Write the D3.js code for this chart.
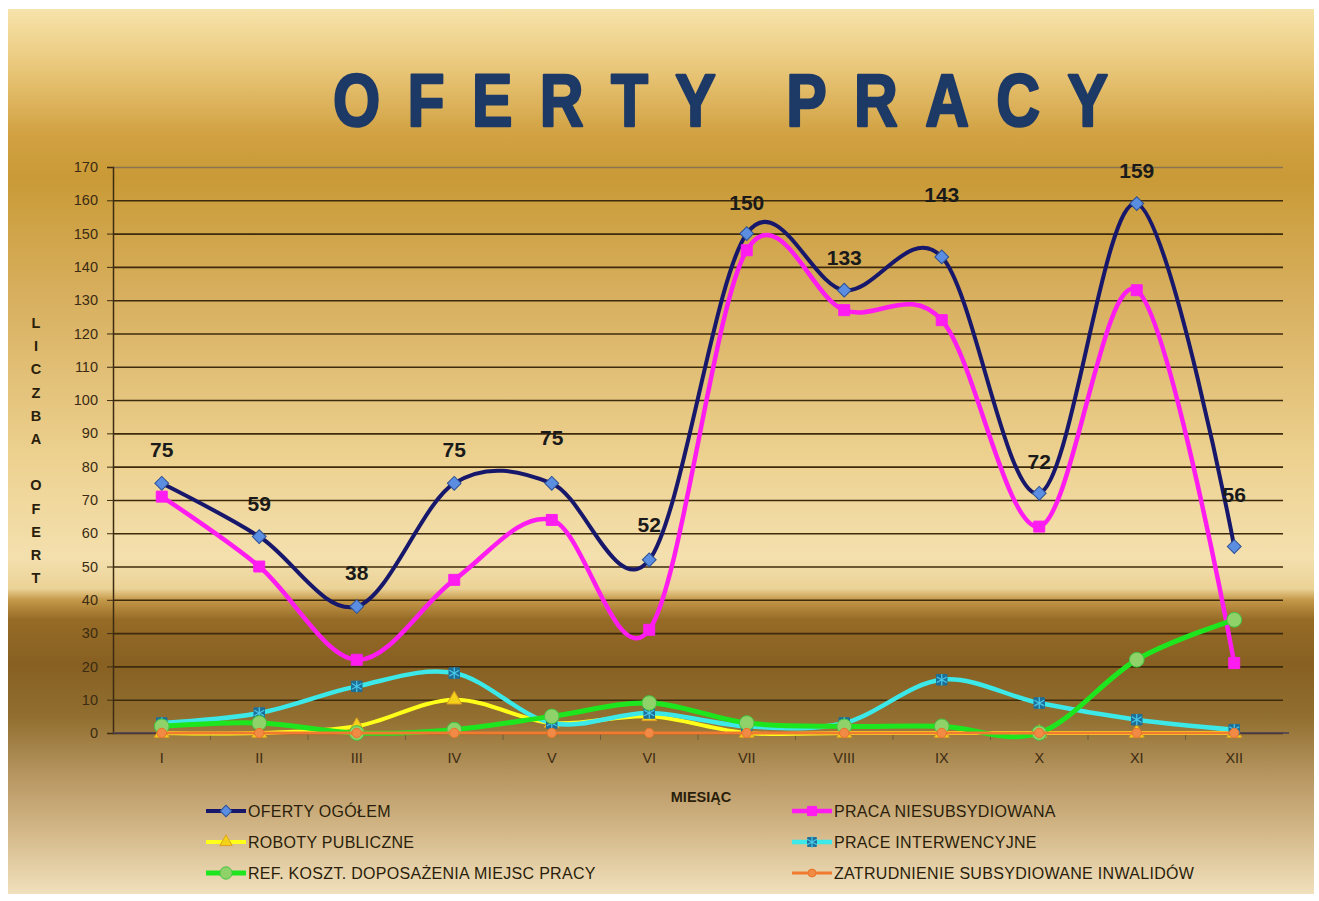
<!DOCTYPE html>
<html>
<head>
<meta charset="utf-8">
<script src="https://cdn.jsdelivr.net/npm/d3@7"></script>
<style>
  body { margin: 0; background: #fff; }
  text { font-family: "Liberation Sans", Arial, sans-serif; }
</style>
</head>
<body>
<div id="chart"></div>
<script>
// months and series values
const months = ["I", "II", "III", "IV", "V", "VI", "VII", "VIII", "IX", "X", "XI", "XII"];
const ofertyOgolem = [75, 59, 38, 75, 75, 52, 150, 133, 143, 72, 159, 56];
const pracaNiesub = [71, 50, 22, 46, 64, 31, 145, 127, 124, 62, 133, 21];
const robotyPubl = [0, 0, 2, 10, 3, 5, 0, 0, 0, 0, 0, 0];
const praceInterw = [3, 6, 14, 18, 3, 6, 2, 3, 16, 9, 4, 1];
const refKoszt = [2, 3, 0, 1, 5, 9, 3, 2, 2, 0, 22, 34];
const zatrudnInw = [0, 0, 0, 0, 0, 0, 0, 0, 0, 0, 0, 0];
const yTicks = d3.range(0, 171, 10);

// label lift above the point (px), some labels were moved by hand in the original
const labelLift = [33, 33, 33, 33, 45, 35, 31, 32, 62, 31, 33, 52];

const W = 1319, H = 901;
const plot = {left: 113, right: 1283, top: 167, bottom: 733};

const svg = d3.select("#chart").append("svg")
    .attr("width", W)
    .attr("height", H);

// background panel gradient
const defs = svg.append("defs");
const grad = defs.append("linearGradient")
    .attr("id", "bg")
    .attr("x1", 0).attr("y1", 0).attr("x2", 0).attr("y2", 1);
[
  [0.00, "#f6e3aa"], [0.06, "#ebca7e"], [0.14, "#d2a243"], [0.19, "#c99a36"],
  [0.33, "#d8b060"], [0.50, "#ecd08e"], [0.62, "#f4e0ae"], [0.655, "#ebd296"],
  [0.668, "#c49848"], [0.69, "#966b26"], [0.74, "#876022"], [0.80, "#916f30"],
  [0.87, "#b99864"], [0.93, "#d4b889"], [1.00, "#f0e0bc"]
].forEach(s => grad.append("stop").attr("offset", s[0]).attr("stop-color", s[1]));

svg.append("rect")
    .attr("x", 8).attr("y", 9)
    .attr("width", 1306).attr("height", 885)
    .attr("fill", "url(#bg)");

// title
const tScale = 0.82;
svg.append("text")
    .attr("transform", `scale(${tScale},1)`)
    .attr("x", 333 / tScale)
    .attr("y", 126)
    .attr("textLength", 775 / tScale)
    .attr("lengthAdjust", "spacing")
    .style("font-size", "74px")
    .style("font-weight", "bold")
    .style("fill", "#1d3966")
    .style("stroke", "#1d3966")
    .style("stroke-width", 2.5)
    .style("stroke-linejoin", "round")
    .text("OFERTY PRACY");

// scales
const x = d3.scaleBand()
    .domain(months)
    .range([plot.left, plot.right]);
const cx = m => x(m) + x.bandwidth() / 2;

const y = d3.scaleLinear()
    .domain([0, 170])
    .range([plot.bottom, plot.top]);

// gridlines
svg.append("g")
    .attr("transform", `translate(${plot.left},0)`)
    .call(d3.axisLeft(y).tickValues(yTicks).tickSize(-(plot.right - plot.left)).tickFormat(""))
    .call(g => g.select(".domain").remove())
    .call(g => g.selectAll(".tick line")
        .attr("stroke", d => d === 170 ? "#8a7350" : "#3d2a0c")
        .attr("stroke-width", 1.6));

// y axis
svg.append("g")
    .attr("transform", `translate(${plot.left},0)`)
    .call(d3.axisLeft(y).tickValues(yTicks).tickSize(6).tickPadding(9))
    .call(g => g.select(".domain").attr("stroke", "#3d2c12").attr("stroke-width", 1.5))
    .call(g => g.selectAll(".tick line").attr("stroke", "#3d2c12"))
    .call(g => g.selectAll(".tick text")
        .style("font-size", "14.5px")
        .style("fill", "#3b2b12"));

// x axis line + boundary ticks
svg.append("line")
    .attr("x1", plot.left).attr("x2", plot.right + 6)
    .attr("y1", y(0)).attr("y2", y(0))
    .attr("stroke", "#4a3f55").attr("stroke-width", 1.5);

svg.append("g")
    .selectAll("line")
    .data(months.slice(1))
    .enter()
    .append("line")
    .attr("x1", d => x(d)).attr("x2", d => x(d))
    .attr("y1", y(0) + 1).attr("y2", y(0) + 7)
    .attr("stroke", "#6e5a3a");

svg.append("g")
    .selectAll("text")
    .data(months)
    .enter()
    .append("text")
    .attr("x", d => cx(d))
    .attr("y", y(0) + 30)
    .style("text-anchor", "middle")
    .style("font-size", "14.5px")
    .style("fill", "#3b2b12")
    .text(d => d);

// axis titles
svg.append("text")
    .attr("x", 701)
    .attr("y", 802)
    .style("text-anchor", "middle")
    .style("font-size", "14.5px")
    .style("font-weight", "bold")
    .style("fill", "#2a1e0a")
    .text("MIESIĄC");

svg.append("g")
    .selectAll("text")
    .data("LICZBA OFERT".split(""))
    .enter()
    .append("text")
    .attr("x", 36)
    .attr("y", (d, i) => 328 + i * 23.2)
    .style("text-anchor", "middle")
    .style("font-size", "14.5px")
    .style("font-weight", "bold")
    .style("fill", "#2a1e0a")
    .text(d => d);

// series definitions
const series = [
  {name: "OFERTY OGÓŁEM", values: ofertyOgolem, color: "#17176b", width: 4,
   marker: {type: d3.symbolSquare, size: 95, rotate: 45, fill: "#5b8ee0", stroke: "#2c4f96"}},
  {name: "PRACA NIESUBSYDIOWANA", values: pracaNiesub, color: "#ff1cf0", width: 4.5,
   marker: {type: d3.symbolSquare, size: 120, fill: "#ff1cf0", stroke: "#ff1cf0"}},
  {name: "ROBOTY PUBLICZNE", values: robotyPubl, color: "#ffff1a", width: 4,
   marker: {type: d3.symbolTriangle, size: 95, fill: "#f4d21a", stroke: "#e0a020"}},
  {name: "PRACE INTERWENCYJNE", values: praceInterw, color: "#3ce8e8", width: 4.5,
   marker: {type: d3.symbolSquare, size: 110, fill: "#1d6f98", stroke: "#1d6f98", star: true}},
  {name: "REF. KOSZT. DOPOSAŻENIA MIEJSC PRACY", values: refKoszt, color: "#1ee61e", width: 5,
   marker: {type: d3.symbolCircle, size: 170, fill: "#8fd26a", stroke: "#3fc63f"}},
  {name: "ZATRUDNIENIE SUBSYDIOWANE INWALIDÓW", values: zatrudnInw, color: "#f07a30", width: 3,
   marker: {type: d3.symbolCircle, size: 70, fill: "#f08a44", stroke: "#e8742a"}}
];

const line = d3.line()
    .x((d, i) => cx(months[i]))
    .y(d => y(d))
    .curve(d3.curveCardinal);

function drawMarker(g, m) {
  g.append("path")
      .attr("d", d3.symbol().type(m.type).size(m.size)())
      .attr("transform", m.rotate ? `rotate(${m.rotate})` : null)
      .attr("fill", m.fill)
      .attr("stroke", m.stroke)
      .attr("stroke-width", 1);
  if (m.star) {
    g.append("path")
        .attr("d", d3.symbol().type(d3.symbolAsterisk).size(90)())
        .attr("fill", "none")
        .attr("stroke", "#48c8e8")
        .attr("stroke-width", 1.2);
  }
}

series.forEach(s => {
  svg.append("path")
      .datum(s.values)
      .attr("d", line)
      .attr("fill", "none")
      .attr("stroke", s.color)
      .attr("stroke-width", s.width)
      .attr("stroke-linejoin", "round");

  svg.append("g")
      .selectAll("g")
      .data(s.values)
      .enter()
      .append("g")
      .attr("transform", (d, i) => `translate(${cx(months[i])},${y(d)})`)
      .each(function() { drawMarker(d3.select(this), s.marker); });
});

// value labels for OFERTY OGÓŁEM
svg.append("g")
    .selectAll("text")
    .data(ofertyOgolem)
    .enter()
    .append("text")
    .attr("x", (d, i) => cx(months[i]))
    .attr("y", (d, i) => y(d) - labelLift[i] + 7)
    .style("text-anchor", "middle")
    .style("font-size", "21px")
    .style("font-weight", "bold")
    .style("fill", "#1a1a1a")
    .text(d => d);

// legend
const legend = svg.append("g");
const legendPos = [
  {x: 206, y: 811}, {x: 792, y: 811},
  {x: 206, y: 842}, {x: 792, y: 842},
  {x: 206, y: 873}, {x: 792, y: 873}
];
series.forEach((s, i) => {
  const p = legendPos[i];
  const g = legend.append("g").attr("transform", `translate(${p.x},${p.y})`);
  g.append("line")
      .attr("x1", 0).attr("x2", 40)
      .attr("stroke", s.color)
      .attr("stroke-width", s.width);
  const mg = g.append("g").attr("transform", "translate(20,0)");
  drawMarker(mg, Object.assign({}, s.marker, {size: s.marker.size * 0.7}));
  g.append("text")
      .attr("x", 42)
      .attr("dy", "0.36em")
      .style("font-size", "16px")
      .style("letter-spacing", "0.3px")
      .style("fill", "#2a1e0a")
      .text(s.name);
});
</script>
</body>
</html>
